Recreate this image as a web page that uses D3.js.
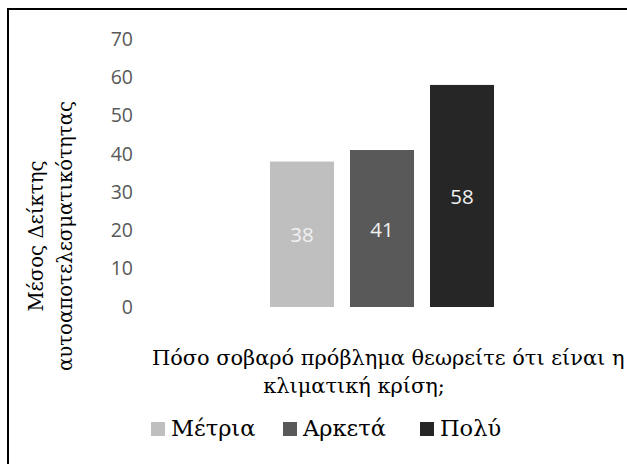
<!DOCTYPE html>
<html>
<head>
<meta charset="utf-8">
<script src="https://cdn.jsdelivr.net/npm/d3@7"></script>
<style>
  html, body { margin: 0; padding: 0; background: #fff; }
  svg { display: block; }
</style>
</head>
<body>
<svg id="chart" width="627" height="464"></svg>
<script>
// Data
const categories = ["Πόσο σοβαρό πρόβλημα θεωρείτε ότι είναι η κλιματική κρίση;"];
const series = ["Μέτρια", "Αρκετά", "Πολύ"];
const values = [38, 41, 58];
const colors = ["#bfbfbf", "#595959", "#262626"];
const yTicks = [0, 10, 20, 30, 40, 50, 60, 70];
const yTitleLines = ["Μέσος Δείκτης", "αυτοαποτελεσματικότητας"];
const xTitleLines = ["Πόσο σοβαρό πρόβλημα θεωρείτε ότι είναι η", "κλιματική κρίση;"];

const serif = "'DejaVu Serif', serif";
const sans = "'Open Sans', 'Noto Sans', sans-serif";

const svg = d3.select("#chart");

// Chart frame (only the top and left edges fall inside the view)
svg.append("rect")
  .attr("x", 8).attr("y", 9)
  .attr("width", 700).attr("height", 600)
  .attr("fill", "#fff")
  .attr("stroke", "#000")
  .attr("stroke-width", 2);

// Scales
const plot = { left: 142, right: 622, top: 39, bottom: 307 };
const x0 = d3.scaleBand().domain(categories)
  .range([plot.left, plot.right]).paddingInner(0.3636).paddingOuter(0.3636);
const x1 = d3.scaleBand().domain(series)
  .range([0, x0.bandwidth()]).paddingInner(0.2).paddingOuter(0);
const y = d3.scaleLinear().domain([0, 70]).range([plot.bottom, plot.top]);

// Y axis labels only (no line, no ticks)
const yAxis = d3.axisLeft(y).tickValues(yTicks).tickSize(0).tickPadding(0);
const gy = svg.append("g").attr("transform", `translate(133,0)`).call(yAxis);
gy.select(".domain").remove();
gy.selectAll("text")
  .attr("fill", "#595959")
  .style("font-family", sans)
  .style("font-size", "19.5px");

// Bars
const rows = series.map((s, i) => ({ series: s, value: values[i], color: colors[i] }));
const g = svg.append("g").attr("transform", `translate(${x0(categories[0])},0)`);
g.selectAll("rect.bar").data(rows).join("rect")
  .attr("class", "bar")
  .attr("x", d => x1(d.series))
  .attr("y", d => y(d.value))
  .attr("width", x1.bandwidth())
  .attr("height", d => y(0) - y(d.value))
  .attr("fill", d => d.color);

// Value labels centred in each bar
g.selectAll("text.val").data(rows).join("text")
  .attr("class", "val")
  .attr("x", d => x1(d.series) + x1.bandwidth() / 2)
  .attr("y", d => (y(d.value) + y(0)) / 2)
  .attr("text-anchor", "middle")
  .attr("dominant-baseline", "central")
  .attr("fill", "#f2f2f2")
  .style("font-family", sans)
  .style("font-size", "20.5px")
  .text(d => d.value);

// Y axis title (rotated, two lines)
const yTitle = svg.append("text")
  .attr("transform", "translate(0,236) rotate(-90)")
  .attr("text-anchor", "middle")
  .attr("fill", "#000")
  .style("font-family", serif)
  .style("font-size", "19.7px");
yTitle.selectAll("tspan").data(yTitleLines).join("tspan")
  .attr("x", 0)
  .attr("y", (d, i) => 43 + i * 29)
  .text(d => d);

// X axis title (two lines)
const xTitle = svg.append("text")
  .attr("fill", "#000")
  .style("font-family", serif)
  .style("font-size", "20.9px");
xTitle.append("tspan").attr("x", 152).attr("y", 365).attr("text-anchor", "start").text(xTitleLines[0]);
xTitle.append("tspan").attr("x", 354).attr("y", 393).attr("text-anchor", "middle").text(xTitleLines[1]);

// Legend
const legendX = [151, 283, 420];
const legend = svg.append("g");
const items = legend.selectAll("g").data(rows).join("g")
  .attr("transform", (d, i) => `translate(${legendX[i]},422)`);
items.append("rect")
  .attr("width", 14).attr("height", 14)
  .attr("fill", d => d.color);
items.append("text")
  .attr("x", 20).attr("y", 13.5)
  .attr("fill", "#000")
  .style("font-family", serif)
  .style("font-size", "22.5px")
  .text(d => d.series);
</script>
</body>
</html>
